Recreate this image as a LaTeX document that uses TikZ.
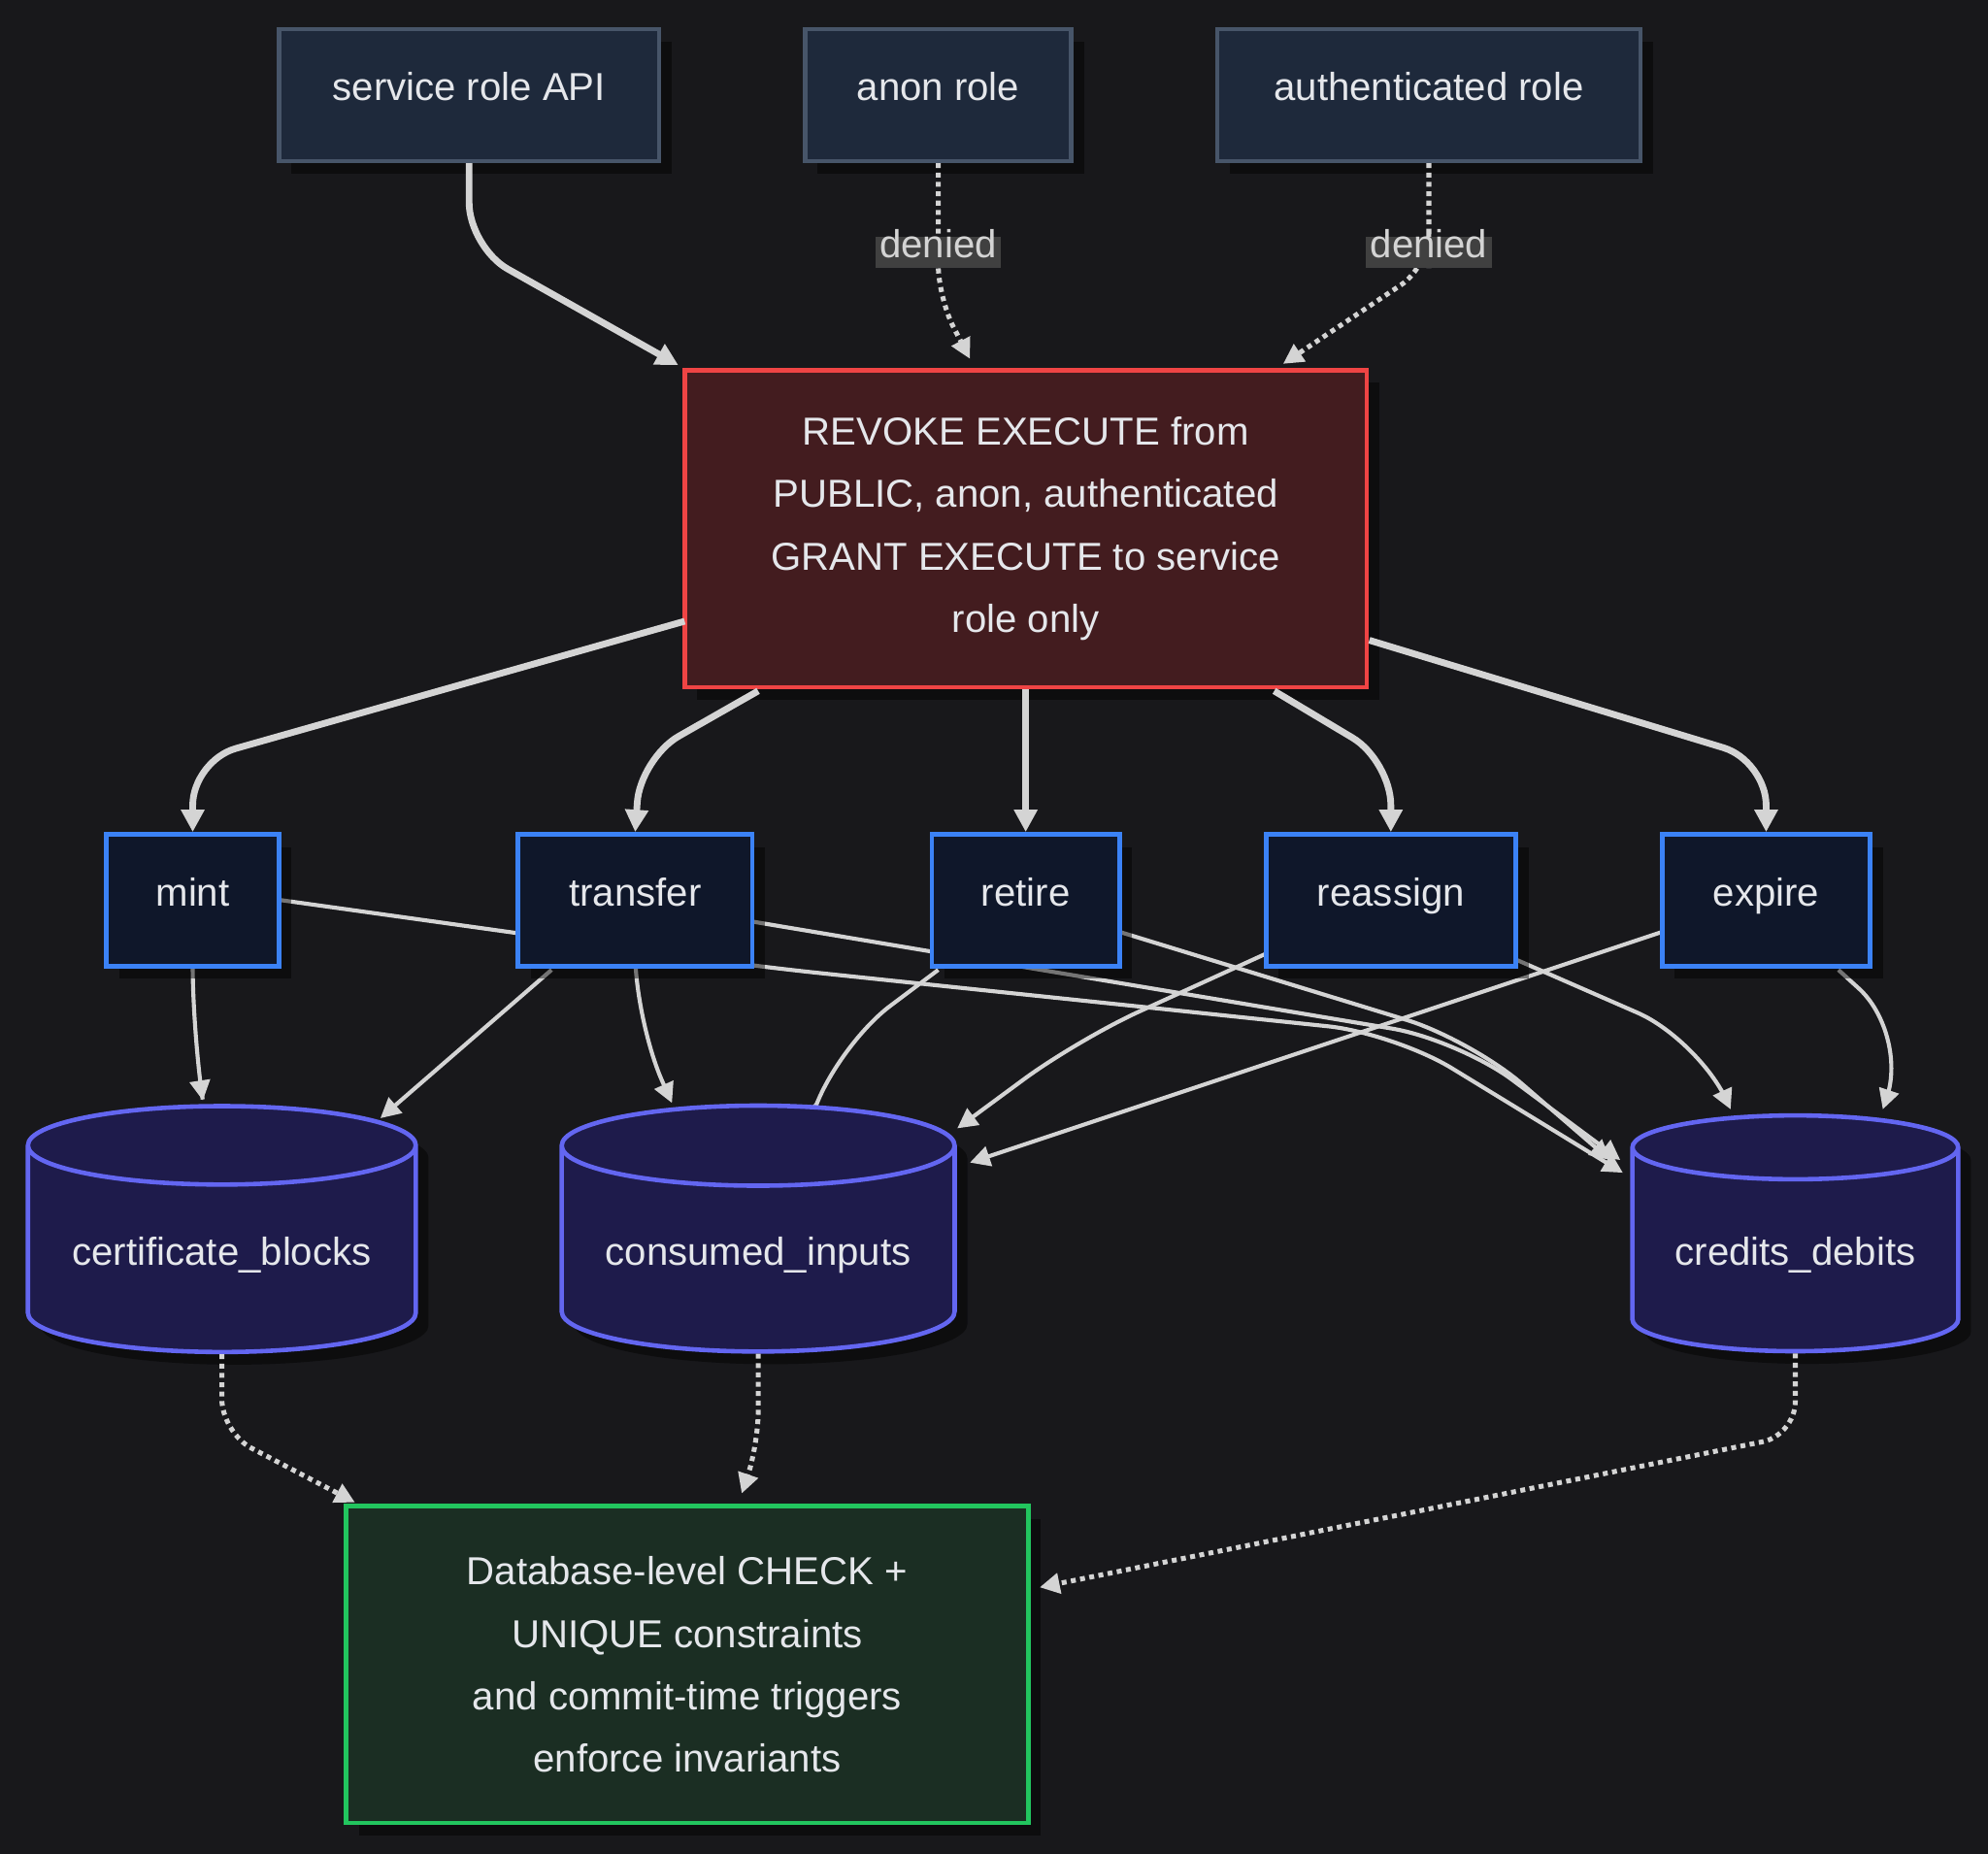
\documentclass[tikz,border=0pt]{standalone}
\usepackage{fontspec}
\setmainfont{Liberation Sans}
\usetikzlibrary{arrows.meta,shapes.geometric,shadows,backgrounds}
\definecolor{bgdark}{HTML}{18181B}
\definecolor{edgegray}{HTML}{D4D4D4}
\definecolor{txtlight}{HTML}{E5E7EB}
\definecolor{rolefill}{HTML}{1E293B}
\definecolor{roleline}{HTML}{475569}
\definecolor{opfill}{HTML}{0F172A}
\definecolor{opline}{HTML}{3B82F6}
\definecolor{tblfill}{HTML}{1E1B4B}
\definecolor{tblline}{HTML}{6366F1}
\definecolor{gatefill}{HTML}{431C1F}
\definecolor{gateline}{HTML}{EF4444}
\definecolor{chkfill}{HTML}{1B2E23}
\definecolor{chkline}{HTML}{22C55E}
\definecolor{lblfill}{HTML}{404040}
\tikzset{
  box/.style={rectangle, draw, line width=2pt, minimum height=2.08cm, text=txtlight,
    font=\fontsize{17.5}{28}\selectfont, align=center,
    drop shadow={shadow xshift=0.2cm, shadow yshift=-0.2cm, fill=black, opacity=0.45}},
  role/.style={box, fill=rolefill, draw=roleline, text height=0.75em, text depth=0.25em},
  op/.style={box, fill=opfill, draw=opline, text height=0.75em, text depth=0.25em},
  tbl/.style={cylinder, shape border rotate=90, aspect=0.25, draw=tblline, fill=tblfill,
    line width=2pt, text=txtlight, font=\fontsize{17.5}{28}\selectfont,
    drop shadow={shadow xshift=0.2cm, shadow yshift=-0.2cm, fill=black, opacity=0.45}},
  thick edge/.style={draw=edgegray, line width=3pt, rounded corners=20, -{Triangle[length=10pt,width=10pt]}},
  thin edge/.style={draw=edgegray, line width=1.8pt, rounded corners=30, -{Triangle[length=9pt,width=9pt]}},
  dot edge/.style={draw=edgegray, line width=2.2pt, dotted, rounded corners=15, -{Triangle[length=9pt,width=9pt]}},
  lbl/.style={solid, sharp corners, fill=lblfill, text=edgegray, font=\fontsize{17.5}{18}\selectfont,
    inner sep=2pt, text height=0.75em, text depth=0.25em},
}
\begin{document}
\begin{tikzpicture}[x=0.02cm,y=-0.02cm]
\useasboundingbox (0,0) rectangle (1568,1462);
% roles
\node [role, minimum width=6cm] (api) at (370,75) {service role API};
\node [role, minimum width=4.2cm] (anon) at (740,75) {anon role};
\node [role, minimum width=6.68cm] (auth) at (1127,75) {authenticated role};
% grant gate
\node [box, fill=gatefill, draw=gateline, minimum width=10.76cm, minimum height=5cm] (revoke) at (809,417)
{REVOKE EXECUTE from\\PUBLIC, anon, authenticated\\GRANT EXECUTE to service\\role only};
% functions
\node [op, minimum width=2.72cm] (mint) at (152,710) {mint};
\node [op, minimum width=3.7cm] (transfer) at (501,710) {transfer};
\node [op, minimum width=2.96cm] (retire) at (809,710) {retire};
\node [op, minimum width=3.94cm] (reassign) at (1097,710) {reassign};
\node [op, minimum width=3.28cm] (expire) at (1393,710) {expire};
% tables
\node [tbl, minimum width=6.12cm, minimum height=3.88cm] (certs) at (175,990) {certificate\_blocks};
\node [tbl, minimum width=6.2cm, minimum height=3.88cm] (consumed) at (598,990) {consumed\_inputs};
\node [tbl, minimum width=5.14cm, minimum height=3.72cm] (credits) at (1416,990) {credits\_debits};
% constraints
\node [box, fill=chkfill, draw=chkline, minimum width=10.76cm, minimum height=5cm] (checks) at (542,1313)
{Database-level CHECK +\\UNIQUE constraints\\and commit-time triggers\\enforce invariants};
% edges
\draw [thick edge] (api.south) -- (370,195) -- (535,288);
\draw [dot edge] (anon.south) -- (740,185) node [lbl, below] {denied} -- (740,235) -- (765,283);
\draw [dot edge] (auth.south) -- (1127,185) node [lbl, below] {denied} -- (1127,210) -- (1012,287);
\draw [thick edge] (540,490) -- (152,600) -- (mint.north);
\draw [thick edge] (598,545) -- (505,598) -- (transfer.north);
\draw [thick edge] (revoke.south) -- (retire.north);
\draw [thick edge] (1005,545) -- (1097,600) -- (reassign.north);
\draw [thick edge] (1080,505) -- (1393,600) -- (expire.north);
\begin{scope}[on background layer]
\fill[bgdark] (0,0) rectangle (1568,1462);
\draw [thin edge] (mint.south) -- (152,815) -- (160,868);
\draw [thin edge] (mint.east) -- (594,762) -- (1100,815) -- (1280,925);
\draw [thin edge] (435,765) -- (300,882);
\draw [thin edge] (transfer.south) -- (501,805) -- (530,870);
\draw [thin edge] (594,727) -- (1150,820) -- (1278,915);
\draw [thin edge] (740,765) -- (660,825) -- (645,868);
\draw [thin edge] (883,735) -- (1160,820) -- (1270,915);
\draw [thin edge] (999,752) -- (850,820) -- (755,890);
\draw [thin edge] (1196,757) -- (1340,820) -- (1365,875);
\draw [thin edge] (1311,735) -- (765,917);
\draw [thin edge] (1450,765) -- (1505,815) -- (1485,875);
\end{scope}
\draw [dot edge] (certs.south) -- (175,1130) -- (280,1185);
\draw [dot edge] (consumed.south) -- (598,1140) -- (585,1178);
\draw [dot edge] (credits.south) -- (1416,1132) -- (820,1252);
\end{tikzpicture}
\end{document}
